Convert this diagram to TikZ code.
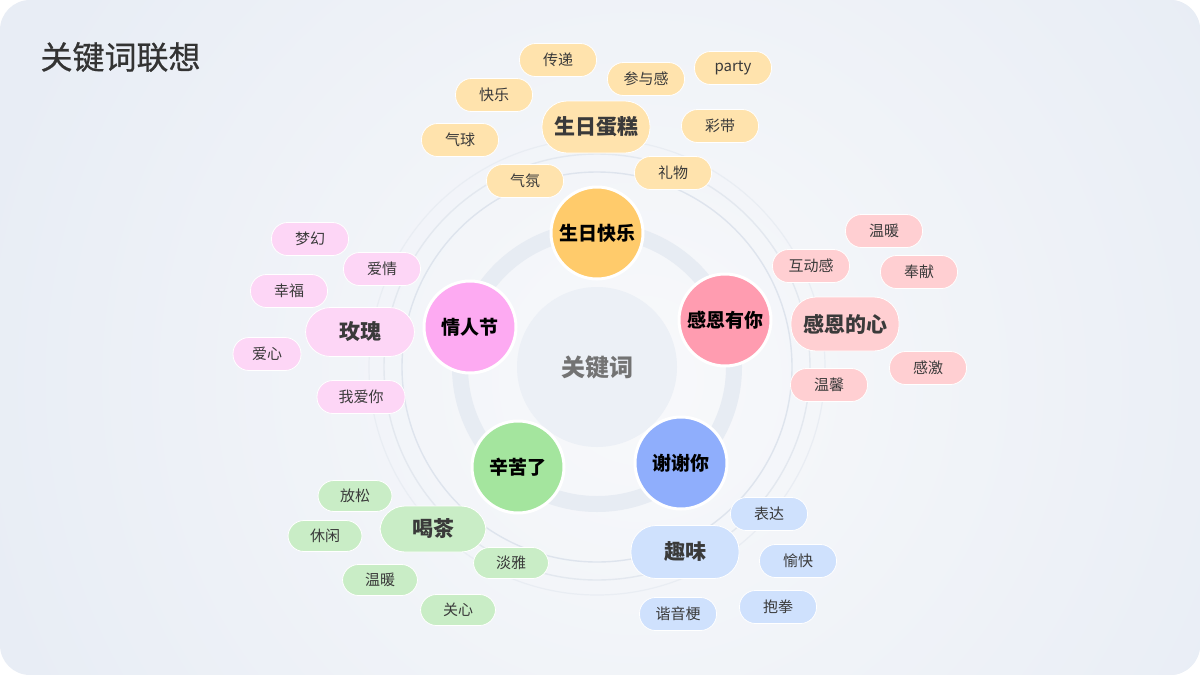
\documentclass[tikz,border=0pt]{standalone}
\usepackage{fontspec}
\setmainfont{Noto Sans CJK SC}
\newfontfamily\titlefont[FakeBold=0.7]{Noto Sans CJK SC}
\definecolor{bgA}{HTML}{E8EDF5}
\definecolor{bgB}{HTML}{F8F9FB}
\definecolor{bandc}{HTML}{E7ECF3}
\definecolor{ringA}{HTML}{DEE4ED}
\definecolor{ringB}{HTML}{E3E8EF}
\definecolor{ringC}{HTML}{E9EDF3}
\definecolor{centerc}{HTML}{ECF0F6}
\definecolor{yelC}{HTML}{FFCB6B}
\definecolor{yelP}{HTML}{FFE3AD}
\definecolor{redC}{HTML}{FF9CB0}
\definecolor{redP}{HTML}{FFCFD2}
\definecolor{pinkC}{HTML}{FDAAF2}
\definecolor{pinkP}{HTML}{FDD6F6}
\definecolor{greenC}{HTML}{A4E59E}
\definecolor{greenP}{HTML}{C9EDC6}
\definecolor{blueC}{HTML}{8FAEFC}
\definecolor{blueP}{HTML}{CFE1FD}
\definecolor{txt}{HTML}{3A3A3A}
\tikzset{
  pill/.style={rectangle, rounded corners=16pt, draw=white, line width=0.8pt,
    minimum width=77pt, minimum height=33pt, inner sep=0pt,
    font=\fontsize{15}{15}\selectfont, text=txt},
  bigpill/.style={pill, rounded corners=25pt, minimum width=108pt, minimum height=52pt,
    font=\fontsize{21}{21}\selectfont\bfseries, text=txt},
  keyc/.style={circle, draw=white, line width=3pt, minimum size=92pt, inner sep=0pt,
    font=\fontsize{19}{19}\selectfont\bfseries, text=black},
}
\begin{document}
\begin{tikzpicture}[x=1pt,y=-1pt]
\useasboundingbox (0,0) rectangle (1200,675);
\fill[white] (0,0) rectangle (1200,675);
\begin{scope}
\clip[rounded corners=30pt] (0,0) rectangle (1200,675);
\fill[bgA] (0,0) rectangle (1200,675);
\shade[inner color=bgB, outer color=bgA] (640,380) circle (680);
\end{scope}
% title
\node[anchor=west, font=\titlefont\fontsize{32}{32}\selectfont, text=black!80] (title) at (37,57) {关键词联想};
% rings
\draw[ringC, line width=1.2pt] (597,367) circle (228);
\draw[ringB, line width=1.4pt] (597,367) circle (213);
\draw[ringA, line width=1.4pt] (597,367) circle (195);
\draw[bandc, line width=16pt] (597,367) circle (137);
\node[circle, fill=centerc, minimum size=160pt, inner sep=0pt,
  font=\fontsize{24}{24}\selectfont\bfseries, text=black!55] (center) at (597,367) {关键词};
% yellow pills
\node[pill, fill=yelP] (y1) at (558,60) {传递};
\node[pill, fill=yelP] (y2) at (646,79) {参与感};
\node[pill, fill=yelP] (y3) at (733,68) {party};
\node[pill, fill=yelP] (y4) at (494,95) {快乐};
\node[bigpill, fill=yelP] (y5) at (596,127) {生日蛋糕};
\node[pill, fill=yelP] (y6) at (720,126) {彩带};
\node[pill, fill=yelP] (y7) at (460,140) {气球};
\node[pill, fill=yelP] (y8) at (525,181) {气氛};
\node[pill, fill=yelP] (y9) at (673,173) {礼物};
% pink pills
\node[pill, fill=pinkP] (p1) at (310,239) {梦幻};
\node[pill, fill=pinkP] (p2) at (382,269) {爱情};
\node[pill, fill=pinkP] (p3) at (289,291) {幸福};
\node[bigpill, fill=pinkP, minimum width=109pt, minimum height=49pt] (p4) at (360,332) {玫瑰};
\node[pill, fill=pinkP, minimum width=68pt] (p5) at (267,354) {爱心};
\node[pill, fill=pinkP, minimum width=88pt] (p6) at (361,397) {我爱你};
% red pills
\node[pill, fill=redP] (r1) at (884,231) {温暖};
\node[pill, fill=redP] (r2) at (811,266) {互动感};
\node[pill, fill=redP] (r3) at (919,272) {奉献};
\node[bigpill, fill=redP, minimum height=54pt] (r4) at (845,324) {感恩的心};
\node[pill, fill=redP] (r5) at (928,368) {感激};
\node[pill, fill=redP] (r6) at (829,385) {温馨};
% green pills
\node[pill, fill=greenP, minimum width=74pt, minimum height=31pt] (g1) at (355,496) {放松};
\node[pill, fill=greenP, minimum width=74pt, minimum height=31pt] (g2) at (325,536) {休闲};
\node[bigpill, fill=greenP, minimum width=106pt, minimum height=46pt] (g3) at (433,529) {喝茶};
\node[pill, fill=greenP, minimum width=75pt, minimum height=31pt] (g4) at (511,563) {淡雅};
\node[pill, fill=greenP, minimum width=75pt, minimum height=31pt] (g5) at (380,580) {温暖};
\node[pill, fill=greenP, minimum width=75pt, minimum height=31pt] (g6) at (458,610) {关心};
% blue pills
\node[pill, fill=blueP] (b1) at (769,514) {表达};
\node[bigpill, fill=blueP, minimum height=53pt] (b2) at (685,552) {趣味};
\node[pill, fill=blueP] (b3) at (798,561) {愉快};
\node[pill, fill=blueP] (b4) at (778,607) {抱拳};
\node[pill, fill=blueP] (b5) at (678,614) {谐音梗};
% key circles
\node[keyc, fill=yelC] (k1) at (597,233) {生日快乐};
\node[keyc, fill=redC] (k2) at (725,320) {感恩有你};
\node[keyc, fill=pinkC] (k3) at (470,327) {情人节};
\node[keyc, fill=greenC] (k4) at (518,467) {辛苦了};
\node[keyc, fill=blueC] (k5) at (681,463) {谢谢你};
\end{tikzpicture}
\end{document}
